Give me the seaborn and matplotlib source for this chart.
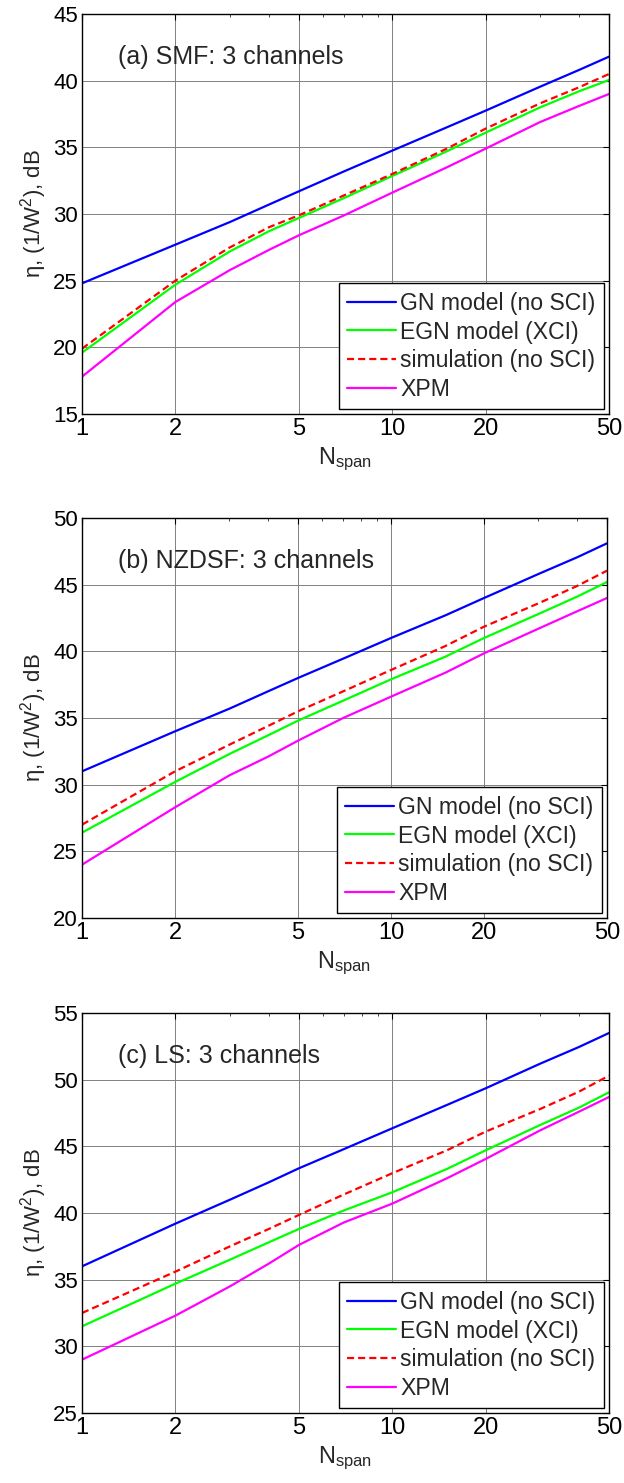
import pandas as pd
import numpy as np
import seaborn as sns
import matplotlib.pyplot as plt

# span counts
n_span = [1, 2, 3, 4, 5, 7, 10, 15, 20, 30, 40, 50]

# (a) SMF
smf_gn = [24.8, 27.7, 29.4, 30.7, 31.7, 33.2, 34.75, 36.5, 37.75, 39.55, 40.8, 41.8]
smf_egn = [19.6, 24.7, 27.2, 28.7, 29.7, 31.2, 32.85, 34.7, 36.1, 38.0, 39.2, 40.05]
smf_sim = [19.9, 25.0, 27.5, 29.0, 29.9, 31.4, 33.0, 34.9, 36.4, 38.3, 39.5, 40.5]
smf_xpm = [17.8, 23.4, 25.8, 27.3, 28.4, 29.9, 31.6, 33.5, 34.9, 36.9, 38.1, 39.0]

# (b) NZDSF
nz_gn = [31.0, 34.0, 35.7, 37.0, 38.0, 39.45, 41.0, 42.7, 44.0, 45.8, 47.05, 48.1]
nz_egn = [26.4, 30.2, 32.3, 33.7, 34.8, 36.3, 37.9, 39.6, 41.0, 42.8, 44.1, 45.2]
nz_sim = [27.0, 31.0, 33.0, 34.4, 35.5, 37.0, 38.6, 40.4, 41.85, 43.6, 44.9, 46.05]
nz_xpm = [24.0, 28.3, 30.7, 32.1, 33.3, 35.0, 36.6, 38.4, 39.85, 41.7, 43.0, 44.0]

# (c) LS
ls_gn = [36.0, 39.2, 41.0, 42.3, 43.35, 44.8, 46.35, 48.1, 49.35, 51.2, 52.45, 53.5]
ls_egn = [31.5, 34.7, 36.5, 37.8, 38.8, 40.2, 41.55, 43.3, 44.7, 46.6, 47.9, 49.05]
ls_sim = [32.5, 35.6, 37.5, 38.8, 39.85, 41.4, 42.98, 44.7, 46.1, 47.8, 49.1, 50.3]
ls_xpm = [29.0, 32.3, 34.5, 36.2, 37.6, 39.3, 40.7, 42.6, 44.05, 46.2, 47.6, 48.7]

labels = ['GN model (no SCI)', 'EGN model (XCI)', 'simulation (no SCI)', 'XPM']
colors = ['#0000ff', '#00ff00', '#ff0000', '#ff00ff']
x_ticks = [1, 2, 5, 10, 20, 50]

panels = [
    ('(a) SMF: 3 channels', [smf_gn, smf_egn, smf_sim, smf_xpm], (15, 45), [15, 20, 25, 30, 35, 40, 45]),
    ('(b) NZDSF: 3 channels', [nz_gn, nz_egn, nz_sim, nz_xpm], (20, 50), [20, 25, 30, 35, 40, 45, 50]),
    ('(c) LS: 3 channels', [ls_gn, ls_egn, ls_sim, ls_xpm], (25, 55), [25, 30, 35, 40, 45, 50, 55]),
]

sns.set_style('white')
plt.rcParams['font.family'] = ['Liberation Sans', 'DejaVu Sans']
plt.rcParams['mathtext.fontset'] = 'custom'
plt.rcParams['mathtext.rm'] = 'Liberation Sans'
plt.rcParams['mathtext.it'] = 'Liberation Sans'

fig = plt.figure(figsize=(6.24, 14.83), dpi=100)
W, H = 624, 1483
boxes = [(82, 14, 609, 414), (82, 518, 607, 918), (82, 1013, 609, 1413)]

for (title, series, ylim, yticks), (l, t, r, b) in zip(panels, boxes):
    ax = fig.add_axes([l / W, 1 - b / H, (r - l) / W, (b - t) / H])
    frames = []
    for lab, vals in zip(labels, series):
        frames.append(pd.DataFrame({'N': n_span, 'eta': vals, 'curve': lab}))
    df = pd.concat(frames, ignore_index=True)
    sns.lineplot(data=df, x='N', y='eta', hue='curve', style='curve',
                 hue_order=labels, style_order=labels,
                 palette=dict(zip(labels, colors)),
                 dashes={labels[0]: '', labels[1]: '', labels[2]: (3.2, 1.8), labels[3]: ''},
                 linewidth=1.6, ax=ax)
    ax.set_xscale('log')
    ax.set_xlim(1, 50)
    ax.set_ylim(*ylim)
    ax.set_xticks(x_ticks)
    ax.set_xticklabels([str(v) for v in x_ticks])
    ax.set_yticks(yticks)
    ax.xaxis.set_minor_locator(plt.FixedLocator([3, 4, 6, 7, 8, 9, 30, 40]))
    ax.xaxis.set_minor_formatter(plt.NullFormatter())
    ax.tick_params(which='major', direction='in', length=4, width=0.8, top=True, right=True,
                   labelsize=16, colors='black', pad=3)
    ax.tick_params(axis='x', which='major', labelsize=17, pad=3)
    ax.tick_params(which='minor', direction='in', length=2, width=0.6, top=True, right=True)
    ax.grid(True, which='major', color='#808080', linewidth=0.7)
    for s in ax.spines.values():
        s.set_color('black')
        s.set_linewidth(1.0)
    ax.set_xlabel('N$_{\\mathrm{span}}$', fontsize=17, labelpad=4)
    ax.set_ylabel('\u03b7, (1/W$^2$), dB', fontsize=16, labelpad=3)
    ax.text(0.068, 0.893, title, transform=ax.transAxes, fontsize=18, va='center', ha='left')
    handles, _ = ax.get_legend_handles_labels()
    leg = ax.legend(handles=handles, labels=labels, loc='lower right', fontsize=16.6,
                    frameon=True, fancybox=False, edgecolor='black', framealpha=1,
                    borderaxespad=0.2, handlelength=2.1, labelspacing=0.24,
                    handletextpad=0.2, borderpad=0.38)
    leg.get_frame().set_linewidth(1.0)

fig.savefig('out.png', dpi=100)
